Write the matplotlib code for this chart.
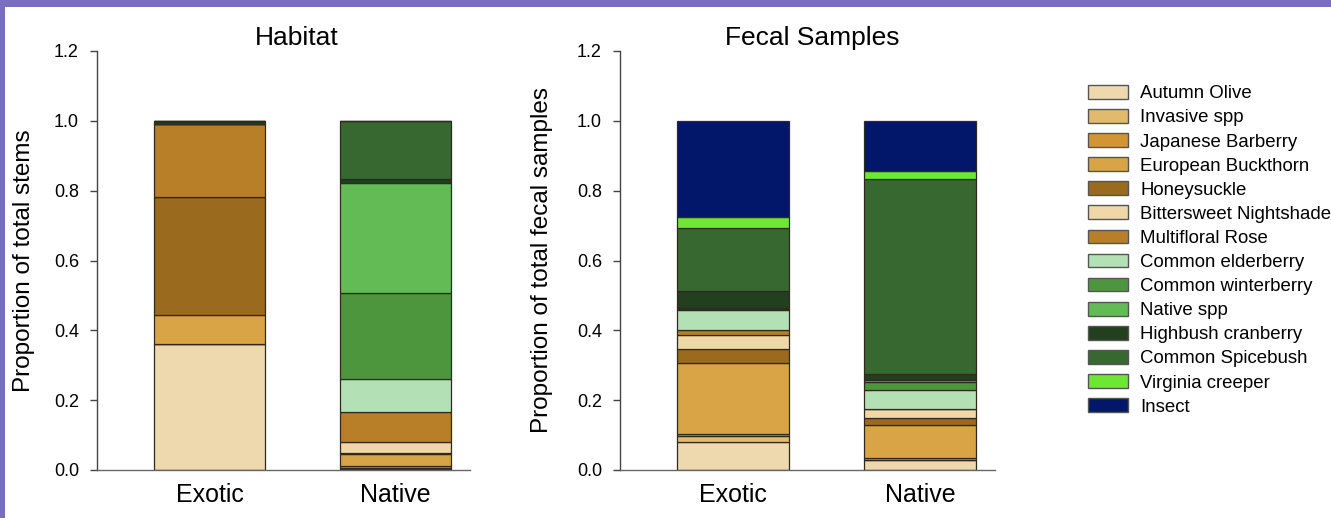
import matplotlib
matplotlib.use("Agg")
import matplotlib.pyplot as plt
from matplotlib.patches import Rectangle, Patch
import numpy as np

plt.rcParams['font.family'] = ['Liberation Sans', 'DejaVu Sans']

groups = ["Exotic", "Native"]
species = ["Autumn Olive", "Invasive spp", "Japanese Barberry", "European Buckthorn",
           "Honeysuckle", "Bittersweet Nightshade", "Multifloral Rose", "Common elderberry",
           "Common winterberry", "Native spp", "Highbush cranberry", "Common Spicebush",
           "Virginia creeper", "Insect"]
colors = ["#EED8AE", "#E2BA6C", "#D39434", "#D8A446",
          "#9A6A1E", "#EFD7A8", "#B87F28", "#B4E0B6",
          "#4E963E", "#62BB55", "#223F1E", "#37682F",
          "#6CE833", "#02166A"]

# Habitat proportions (Exotic, Native) for each species in legend order
habitat = {
    "Autumn Olive":           [0.362, 0.003],
    "Invasive spp":           [0.000, 0.003],
    "Japanese Barberry":      [0.000, 0.006],
    "European Buckthorn":     [0.083, 0.034],
    "Honeysuckle":            [0.337, 0.003],
    "Bittersweet Nightshade": [0.000, 0.032],
    "Multifloral Rose":       [0.208, 0.085],
    "Common elderberry":      [0.000, 0.096],
    "Common winterberry":     [0.000, 0.244],
    "Native spp":             [0.000, 0.316],
    "Highbush cranberry":     [0.010, 0.010],
    "Common Spicebush":       [0.000, 0.168],
    "Virginia creeper":       [0.000, 0.000],
    "Insect":                 [0.000, 0.000],
}

# Fecal sample proportions (Exotic, Native)
fecal = {
    "Autumn Olive":           [0.081, 0.028],
    "Invasive spp":           [0.017, 0.002],
    "Japanese Barberry":      [0.004, 0.003],
    "European Buckthorn":     [0.204, 0.096],
    "Honeysuckle":            [0.041, 0.019],
    "Bittersweet Nightshade": [0.041, 0.026],
    "Multifloral Rose":       [0.014, 0.000],
    "Common elderberry":      [0.056, 0.054],
    "Common winterberry":     [0.003, 0.023],
    "Native spp":             [0.003, 0.007],
    "Highbush cranberry":     [0.048, 0.018],
    "Common Spicebush":       [0.182, 0.558],
    "Virginia creeper":       [0.031, 0.022],
    "Insect":                 [0.275, 0.144],
}

yticks = [0.0, 0.2, 0.4, 0.6, 0.8, 1.0, 1.2]

W, H = 1331, 518
fig = plt.figure(figsize=(W / 100, H / 100), dpi=100)
fig.patch.set_facecolor("white")
# purple frame (top and left)
purple = "#7A6EC2"
fig.add_artist(Rectangle((0, 1 - 7 / H), 1, 7 / H, transform=fig.transFigure,
                         facecolor=purple, edgecolor="none"))
fig.add_artist(Rectangle((0, 0), 5 / W, 1, transform=fig.transFigure,
                         facecolor=purple, edgecolor="none"))

def px_axes(x0, x1, y_top, y_bot):
    return fig.add_axes([x0 / W, 1 - y_bot / H, (x1 - x0) / W, (y_bot - y_top) / H])

ax1 = px_axes(97, 470, 51, 470)
ax2 = px_axes(620, 995, 51, 470)

x = np.arange(len(groups))
edge = "#2e2a1e"

def draw(ax, data, title, ylabel, tx, lx):
    bottom = np.zeros(len(groups))
    for sp, col in zip(species, colors):
        vals = np.array(data[sp])
        ax.bar(x, vals, 0.6, bottom=bottom, color=col, edgecolor=edge, linewidth=0.9)
        bottom += vals
    ax.set_xlim(-0.605, 1.4)
    ax.set_ylim(0, 1.2)
    ax.set_yticks(yticks)
    ax.set_yticklabels([f"{v:.1f}" for v in yticks], fontsize=13)
    ax.set_xticks(x)
    ax.set_xticklabels(groups, fontsize=18)
    ax.tick_params(axis="x", length=0, pad=9)
    ax.tick_params(axis="y", length=5, width=1, color="#444444", pad=8, direction="out")
    for s in ["top", "right"]:
        ax.spines[s].set_visible(False)
    ax.spines["left"].set_color("#444444")
    ax.spines["bottom"].set_color("#666666")
    ax.spines["left"].set_linewidth(1)
    ax.spines["bottom"].set_linewidth(1)
    ax.set_title(title, fontsize=19, pad=4, x=tx)
    ax.set_ylabel(ylabel, fontsize=17.5)
    ax.yaxis.set_label_coords(lx, 0.5)

draw(ax1, habitat, "Habitat", "Proportion of total stems", 0.536, -0.165)
draw(ax2, fecal, "Fecal Samples", "Proportion of total fecal samples", 0.512, -0.178)

handles = [Patch(facecolor=c, edgecolor="#555555", linewidth=1) for c in colors]
fig.legend(handles, species, loc="upper left", bbox_to_anchor=(1088 / W, 1 - 85 / H),
           frameon=False, fontsize=13.4, borderpad=0, borderaxespad=0,
           handlelength=2.15, handleheight=0.75, handletextpad=0.65, labelspacing=0.365)

fig.savefig("out.png", dpi=100)
